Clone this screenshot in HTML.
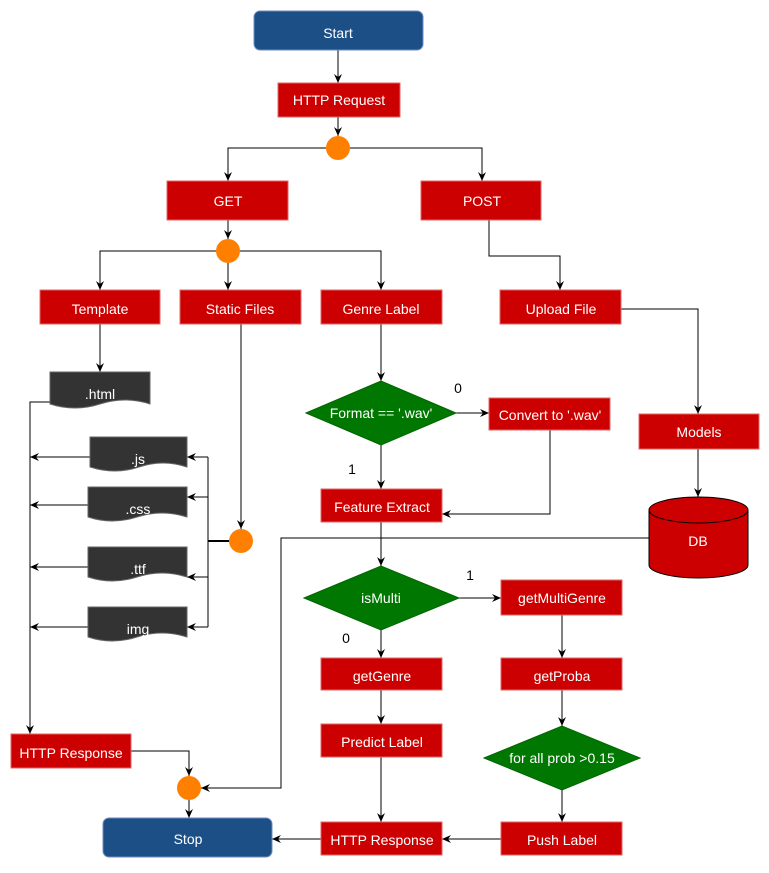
<!DOCTYPE html>
<html><head><meta charset="utf-8"><style>
body{margin:0;background:#fff}
svg text{font-family:"Liberation Sans",sans-serif;font-size:14px;fill:#fff;text-anchor:middle;dominant-baseline:central}
.r{fill:#cc0000;stroke:#e06666;stroke-width:1}
.g{fill:#007700;stroke:#006600}
.b{fill:#1d4f87;stroke:#6c8ebf}
.d{fill:#333;stroke:#666}
.o{fill:#ff8000}
.l{fill:none;stroke:#000;stroke-width:1}
.k{fill:#000}
</style></head><body>
<svg width="769" height="868" viewBox="0 0 769 868" xmlns="http://www.w3.org/2000/svg">
<defs><marker id="a" markerWidth="10" markerHeight="10" refX="9" refY="5" orient="auto" markerUnits="userSpaceOnUse"><path d="M0,1 L9,5 L0,9 L3,5 Z" fill="#000"/></marker></defs>
<g class="l" marker-end="url(#a)">
<path d="M338,50 V83"/>
<path d="M338,117 V136"/>
<path d="M326,148 H228 V181"/>
<path d="M350,148 H482 V181"/>
<path d="M228,220 V239"/>
<path d="M216,251 H100 V290"/>
<path d="M228,263 V290"/>
<path d="M240,251 H381 V290"/>
<path d="M489,220 V256 H560 V290"/>
<path d="M100,324 V372"/>
<path d="M241,324 V529"/>
<path d="M381,324 V381"/>
<path d="M456,413 H489"/>
<path d="M381,445 V489"/>
<path d="M550,430 V514 H442"/>
<path d="M621,309 H698 V414"/>
<path d="M698,449 V497"/>
<path d="M381,522 V566"/>
<path d="M459,598 H501"/>
<path d="M381,630 V658"/>
<path d="M562,615 V658"/>
<path d="M381,690 V724"/>
<path d="M562,690 V726"/>
<path d="M381,757 V822"/>
<path d="M562,790 V822"/>
<path d="M501,839 H442"/>
<path d="M321,839 H272"/>
<path d="M50,402 H30 V734"/>
<path d="M90,457 H30"/>
<path d="M88,505 H30"/>
<path d="M88,567 H30"/>
<path d="M88,627 H30"/>
<path d="M208,457 H187"/>
<path d="M208,497 H187"/>
<path d="M208,577 H187"/>
<path d="M208,627 H187"/>
<path d="M649,538 H281 V788 H201"/>
<path d="M131,751 H189 V776"/>
<path d="M189,800 V818"/>
</g>
<path class="l" d="M208,457 V627"/>
<path d="M208,541 H229" stroke="#000" stroke-width="2"/>
<rect class="b" x="254" y="11" width="169" height="39" rx="6"/><text x="338" y="33">Start</text>
<rect class="b" x="103" y="818" width="169" height="39" rx="6"/><text x="188" y="839">Stop</text>
<rect class="r" x="278" y="83" width="122" height="34"/><text x="339" y="100">HTTP Request</text>
<rect class="r" x="167" y="181" width="121" height="39"/><text x="228" y="201">GET</text>
<rect class="r" x="421" y="181" width="120" height="39"/><text x="482" y="201">POST</text>
<rect class="r" x="40" y="290" width="120" height="34"/><text x="100" y="309">Template</text>
<rect class="r" x="180" y="290" width="121" height="34"/><text x="240" y="309">Static Files</text>
<rect class="r" x="321" y="290" width="121" height="34"/><text x="381" y="309">Genre Label</text>
<rect class="r" x="500" y="290" width="121" height="34"/><text x="561" y="309">Upload File</text>
<rect class="r" x="489" y="398" width="121" height="32"/><text x="550" y="415">Convert to '.wav'</text>
<rect class="r" x="321" y="489" width="121" height="33"/><text x="382" y="507">Feature Extract</text>
<rect class="r" x="639" y="414" width="120" height="35"/><text x="699" y="432">Models</text>
<rect class="r" x="501" y="580" width="121" height="35"/><text x="562" y="598">getMultiGenre</text>
<rect class="r" x="321" y="658" width="121" height="32"/><text x="382" y="676">getGenre</text>
<rect class="r" x="501" y="658" width="121" height="32"/><text x="562" y="676">getProba</text>
<rect class="r" x="321" y="724" width="121" height="33"/><text x="382" y="742">Predict Label</text>
<rect class="r" x="501" y="822" width="121" height="33"/><text x="562" y="840">Push Label</text>
<rect class="r" x="321" y="822" width="121" height="33"/><text x="382" y="840">HTTP Response</text>
<rect class="r" x="11" y="734" width="120" height="34"/><text x="71" y="753">HTTP Response</text>
<path class="g" d="M306,413 L381,381 L456,413 L381,445 Z"/><text x="381" y="413">Format == '.wav'</text>
<path class="g" d="M304,598 L381,566 L459,598 L381,630 Z"/><text x="381" y="598">isMulti</text>
<path class="g" d="M484,758 L562,726 L640,758 L562,790 Z"/><text x="562" y="758">for all prob &gt;0.15</text>
<g style="fill:#000"><text x="458" y="388" style="fill:#000">0</text><text x="352" y="469" style="fill:#000">1</text><text x="470" y="575" style="fill:#000">1</text><text x="346" y="638" style="fill:#000">0</text></g>
<path class="d" d="M50,372 H150 V404 q-25,-8 -50,0 t-50,0 Z"/><text x="100" y="394">.html</text>
<path class="d" d="M90,437 H187 V467 q-24,-8 -48,0 t-49,0 Z"/><text x="138" y="459">.js</text>
<path class="d" d="M88,487 H187 V517 q-25,-8 -50,0 t-49,0 Z"/><text x="138" y="509">.css</text>
<path class="d" d="M88,547 H187 V577 q-25,-8 -50,0 t-49,0 Z"/><text x="138" y="569">.ttf</text>
<path class="d" d="M88,607 H187 V637 q-25,-8 -50,0 t-49,0 Z"/><text x="138" y="629">img</text>
<path d="M649,510 V565 A49.5,13 0 0 0 748,565 V510 A49.5,13 0 0 0 649,510 Z" fill="#cc0000" stroke="#000"/>
<path d="M649,510 A49.5,13 0 0 0 748,510" fill="none" stroke="#000"/>
<text x="698" y="541">DB</text>
<circle class="o" cx="338" cy="148" r="12"/>
<circle class="o" cx="228" cy="251" r="12"/>
<circle class="o" cx="241" cy="541" r="12"/>
<circle class="o" cx="189" cy="788" r="12"/>
</svg>
</body></html>
